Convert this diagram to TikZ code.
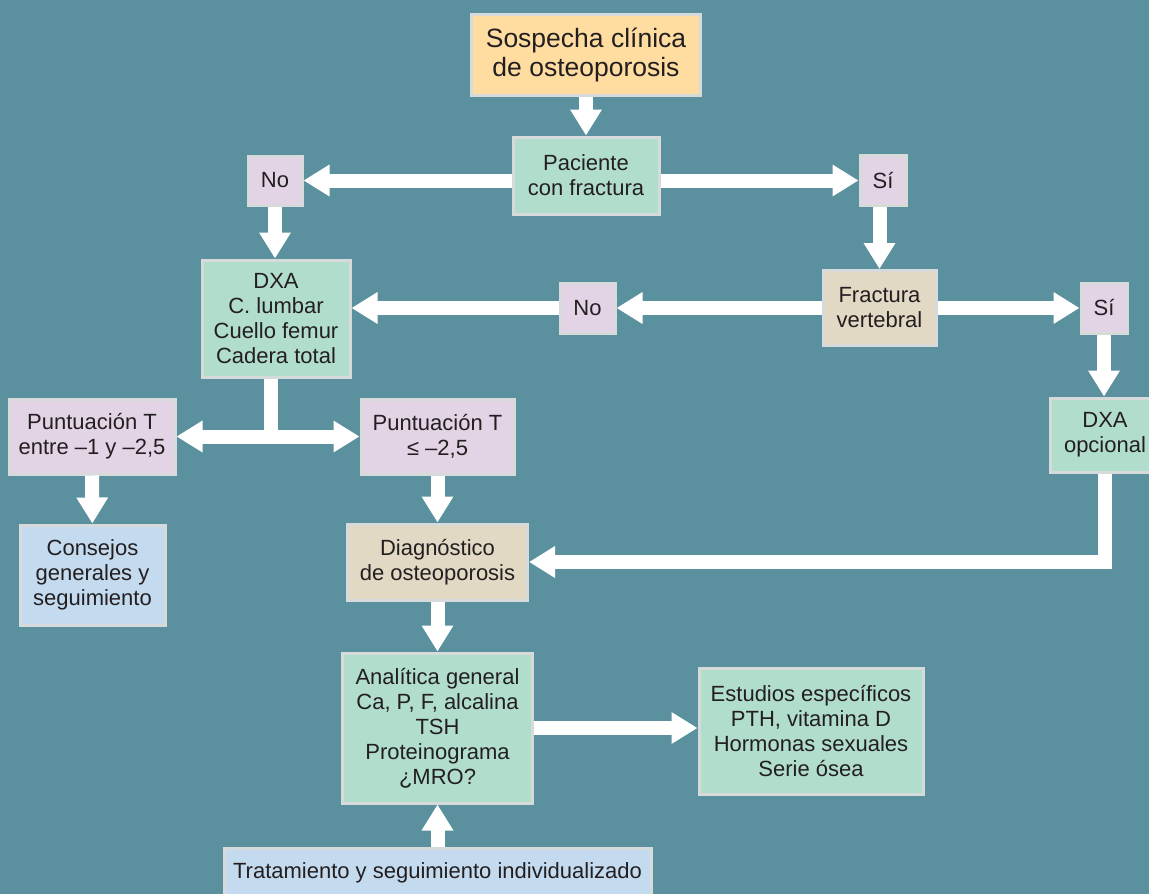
\documentclass[tikz,border=0pt]{standalone}
\usepackage{fontspec}
\setmainfont{Liberation Sans}
\usepackage{xcolor}
\usepackage{tikz}
\usetikzlibrary{arrows.meta, positioning}

\definecolor{bgteal}{HTML}{5B919F}
\definecolor{boxline}{HTML}{D6DADB}
\definecolor{txt}{HTML}{231F20}
\definecolor{boxorange}{HTML}{FFDDA1}
\definecolor{boxgreen}{HTML}{B1DDCD}
\definecolor{boxpurple}{HTML}{E2D3E5}
\definecolor{boxtan}{HTML}{E1D9C4}
\definecolor{boxblue}{HTML}{C4DAEF}

\begin{document}
\begin{tikzpicture}[x=1pt,y=-1pt,>={Triangle[width=30pt,length=26pt]},
  box/.style={draw=boxline,line width=3pt,align=center,text=txt,inner sep=2pt,
    font=\fontsize{22}{25}\selectfont},
  greenbox/.style={box,fill=boxgreen},
  purplebox/.style={box,fill=boxpurple},
  tanbox/.style={box,fill=boxtan},
  bluebox/.style={box,fill=boxblue},
  arr/.style={->,draw=white,line width=14pt},
  bar/.style={draw=white,line width=14pt}]
  \useasboundingbox (0,0) rectangle (1149,894);
  \fill[bgteal] (0,0) rectangle (1149,894);

  % top of the chart
  \node[box,fill=boxorange,minimum width=229pt,minimum height=81pt,
        font=\fontsize{26.5}{29}\selectfont] (sosp) at (586,54.5)
    {Sospecha clínica\\de osteoporosis};
  \node[greenbox,minimum width=146pt,minimum height=77pt] (pac) at (586,175.5)
    {Paciente\\con fractura};
  \node[purplebox,minimum width=54pt,minimum height=49pt] (no1) at (275,180.5) {No};
  \node[purplebox,minimum width=46pt,minimum height=50pt] (si1) at (883,180.5) {Sí};

  % second level
  \node[greenbox,minimum width=148pt,minimum height=117pt] (dxa) at (276,318.5)
    {DXA\\C. lumbar\\Cuello femur\\Cadera total};
  \node[tanbox,minimum width=113pt,minimum height=75pt] (frac) at (879.5,308)
    {Fractura\\vertebral};
  \node[purplebox,minimum width=55pt,minimum height=50pt] (no2) at (587.5,308) {No};
  \node[purplebox,minimum width=46pt,minimum height=50pt] (si2) at (1104,308) {Sí};
  \node[greenbox,minimum width=110pt,minimum height=74pt] (dxaop) at (1105,435)
    {DXA\\opcional};

  % T-scores
  \node[purplebox,minimum width=166pt,minimum height=75pt] (pt1) at (92,436.5)
    {Puntuación T\\entre –1 y –2,5};
  \node[purplebox,minimum width=153pt,minimum height=75pt] (pt2) at (437.5,436.5)
    {Puntuación T\\≤ –2,5};
  \node[bluebox,minimum width=145pt,minimum height=100pt] (cons) at (92.5,575)
    {Consejos\\generales y\\seguimiento};
  \node[tanbox,minimum width=180pt,minimum height=76pt] (diag) at (437.5,562)
    {Diagnóstico\\de osteoporosis};

  % work-up
  \node[greenbox,minimum width=190pt,minimum height=150pt] (anal) at (437.5,728)
    {Analítica general\\Ca, P, F, alcalina\\TSH\\Proteinograma\\¿MRO?};
  \node[greenbox,minimum width=224pt,minimum height=126pt] (estu) at (811,731)
    {Estudios específicos\\PTH, vitamina D\\Hormonas sexuales\\Serie ósea};
  \node[bluebox,minimum width=427pt,minimum height=50pt] (trat) at (437.5,873)
    {Tratamiento y seguimiento individualizado};

  % connectors
  \draw[arr] (sosp) -- (pac);
  \draw[arr] (pac.west |- no1) -- (no1);
  \draw[arr] (pac.east |- si1) -- (si1);
  \draw[arr] (no1) -- (no1 |- dxa.north);
  \draw[arr] (si1.south -| frac) -- (frac);
  \draw[arr] (frac) -- (no2);
  \draw[arr] (no2) -- (no2 -| dxa.east);
  \draw[arr] (frac) -- (si2);
  \draw[arr] (si2) -- (si2 |- dxaop.north);
  \draw[arr] (dxaop.south) |- (diag);
  \coordinate (split) at ([xshift=-5pt]dxa.south |- pt1);
  \draw[bar] ([xshift=-5pt]dxa.south) -- (split);
  \draw[arr] (split) -- (pt1);
  \draw[arr] (split) -- (pt2);
  \draw[arr] (pt1) -- (cons);
  \draw[arr] (pt2) -- (diag);
  \draw[arr] (diag) -- (anal);
  \draw[arr] (anal.east) -- (anal.east -| estu.west);
  \draw[arr] (trat) -- (anal);
\end{tikzpicture}
\end{document}
